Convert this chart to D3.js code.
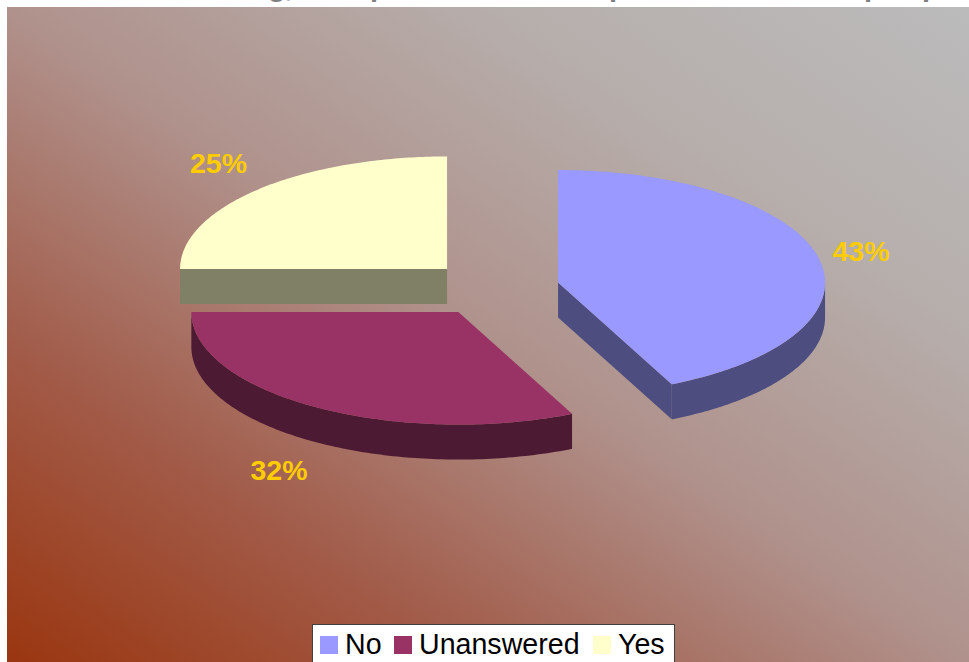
<!DOCTYPE html>
<html>
<head>
<meta charset="utf-8">
<script src="https://cdn.jsdelivr.net/npm/d3@7"></script>
<style>
html,body{margin:0;padding:0;background:#fff;overflow:hidden}
svg{display:block}
text{font-family:"Liberation Sans",Arial,sans-serif}
</style>
</head>
<body>
<svg id="chart" width="969" height="662"></svg>
<script>
const categories = ["No", "Unanswered", "Yes"];
const shares = [43, 32, 25];
const topColors = ["#9999ff", "#993366", "#ffffcc"];
const sideColors = ["#4d4d80", "#4d1a33", "#808066"];
const labelAnchors = [[861, 261], [279, 480], [218.5, 173]];
const legendStops = [[320, 345], [394, 419], [593, 618]];

const W = 969, H = 662;
const rx = 267, ry = 112.5, depth = 35;
const cx = 493.7, cy = 288.6;
const explode = 0.247;

const svg = d3.select("#chart");

// Backdrop runs from rust in the lower left to grey in the upper right
const defs = svg.append("defs");
const grad = defs.append("linearGradient").attr("id", "wall")
  .attr("x1", 0).attr("y1", 1).attr("x2", 1).attr("y2", 0);
[[0, "#9a3610"], [0.25, "#a25c4a"], [0.5, "#b0928c"], [0.75, "#b6aeab"], [1, "#bbbbbb"]]
  .forEach(([o, c]) => grad.append("stop").attr("offset", o).attr("stop-color", c));
svg.append("rect").attr("x", 7).attr("y", 7).attr("width", W - 7).attr("height", H - 7).attr("fill", "url(#wall)");

// Heading sits above the frame, so only its descenders reach the page
svg.append("text")
  .attr("y", -4)
  .attr("font-size", 29).attr("font-weight", "bold").attr("fill", "#808080")
  .selectAll("tspan")
  .data([["g", 268], [",", 285], ["p", 370], ["p", 609], ["p", 864], ["p", 922]])
  .join("tspan").attr("x", d => d[1]).text(d => d[0]);

const pie = d3.pie().sort(null).value(d => d);
const arcs = pie(shares);

const ellipse = (a, c) => [c[0] + rx * Math.sin(a), c[1] - ry * Math.cos(a)];
const centre = s => {
  const m = (s.startAngle + s.endAngle) / 2;
  return [cx + explode * rx * Math.sin(m), cy - explode * ry * Math.cos(m)];
};
const line = d3.line();
const sweep = (a0, a1, c) => d3.range(0, 121).map(i => ellipse(a0 + (a1 - a0) * i / 120, c));

// Extruded walls first, then the slice tops over them
arcs.forEach((s, i) => {
  const c = centre(s), g = svg.append("g");
  const down = p => [p[0], p[1] + depth];
  // outer rim, only where the rim faces the viewer
  const a0 = Math.max(s.startAngle, Math.PI / 2), a1 = Math.min(s.endAngle, 1.5 * Math.PI);
  if (a1 > a0) {
    const rim = sweep(a0, a1, c);
    g.append("path").attr("fill", sideColors[i])
      .attr("d", line(rim.concat(rim.slice().reverse().map(down))) + "Z");
  }
  // cut faces that turn towards the viewer
  [s.startAngle, s.endAngle].forEach(a => {
    const e = ellipse(a, c);
    const visible = (a === s.startAngle) ? Math.sin(a) < 0 : Math.sin(a) > 0;
    if (visible) {
      g.append("path").attr("fill", sideColors[i])
        .attr("d", line([c, e, down(e), down(c)]) + "Z");
    }
  });
  g.append("path").attr("fill", topColors[i])
    .attr("d", line([c].concat(sweep(s.startAngle, s.endAngle, c))) + "Z");
});

svg.append("g").selectAll("text").data(arcs).join("text")
  .attr("x", (d, i) => labelAnchors[i][0]).attr("y", (d, i) => labelAnchors[i][1])
  .attr("text-anchor", "middle").attr("font-size", 28.5).attr("font-weight", "bold")
  .attr("fill", "#ffcc00")
  .text(d => d3.format(".0f")(d.value) + "%");

// Legend box runs off the bottom edge
const legend = svg.append("g");
legend.append("rect").attr("x", 312.5).attr("y", 624.5).attr("width", 362).attr("height", 50)
  .attr("fill", "#fff").attr("stroke", "#404040");
categories.forEach((name, i) => {
  legend.append("rect").attr("x", legendStops[i][0]).attr("y", 636).attr("width", 18).attr("height", 18)
    .attr("fill", topColors[i]);
  legend.append("text").attr("x", legendStops[i][1]).attr("y", 654)
    .attr("font-size", 28.6).attr("fill", "#000").text(name);
});
</script>
</body>
</html>
